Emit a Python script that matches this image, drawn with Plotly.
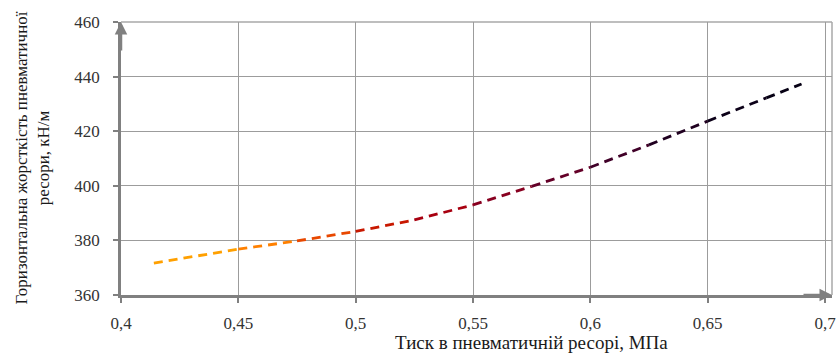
import plotly.graph_objects as go

# Data
pressure = [0.414, 0.45, 0.475, 0.5, 0.525, 0.55, 0.575, 0.6, 0.625, 0.65, 0.675, 0.69]
stiffness = [371.7, 376.8, 379.8, 383.3, 387.5, 393.0, 399.8, 406.8, 415.0, 423.7, 432.2, 437.3]
segment_colors = ["#FFA000", "#FF8000", "#E84800", "#C81800", "#A80010", "#880020",
                  "#640028", "#400028", "#200020", "#0c0018", "#060014"]

x_ticks = [0.4, 0.45, 0.5, 0.55, 0.6, 0.65, 0.7]
x_ticklabels = ["0,4", "0,45", "0,5", "0,55", "0,6", "0,65", "0,7"]
y_ticks = [360, 380, 400, 420, 440, 460]

x_title = "Тиск в пневматичній ресорі, МПа"
y_title = "Горизонтальна жорсткість пневматичної<br>ресори, кН/м"

FONT = "Liberation Serif"
AXIS_COLOR = "#808080"
GRID_COLOR = "#9c9c9c"

fig = go.Figure()
for i, c in enumerate(segment_colors):
    fig.add_trace(go.Scatter(
        x=pressure[i:i + 2], y=stiffness[i:i + 2], mode="lines",
        line=dict(color=c, width=2.8, dash="9px,6px"),
        showlegend=False, hoverinfo="skip"))

fig.update_layout(
    width=837, height=354,
    margin=dict(l=121, r=5, t=22, b=59),
    paper_bgcolor="white", plot_bgcolor="white",
    font=dict(family=FONT, size=17, color="#333333"),
    xaxis=dict(range=[0.4, 0.70298], tickvals=x_ticks, ticktext=x_ticklabels,
               showgrid=True, gridcolor=GRID_COLOR, gridwidth=1,
               showline=True, linecolor=AXIS_COLOR, linewidth=2.5,
               ticks="outside", ticklen=5, tickwidth=2, tickcolor=AXIS_COLOR,
               ticklabelstandoff=6, zeroline=False, automargin=False,
               tickfont=dict(family=FONT, size=17, color="#333333")),
    yaxis=dict(range=[360, 460], tickvals=y_ticks,
               showgrid=True, gridcolor=GRID_COLOR, gridwidth=1,
               showline=True, linecolor=AXIS_COLOR, linewidth=2.5,
               ticks="outside", ticklen=5, tickwidth=2, tickcolor=AXIS_COLOR,
               ticklabelstandoff=10, zeroline=False, automargin=False,
               tickfont=dict(family=FONT, size=17, color="#333333")),
    shapes=[
        dict(type="line", xref="paper", yref="paper", x0=0, x1=1, y0=1, y1=1,
             line=dict(color="#a8a8a8", width=1.5), layer="below"),
        dict(type="line", xref="paper", yref="paper", x0=1, x1=1, y0=0, y1=1,
             line=dict(color="#a8a8a8", width=1.5), layer="below"),
    ],
    annotations=[
        dict(text=y_title, xref="paper", yref="paper", x=0, y=0.5, xshift=-89,
             xanchor="center", yanchor="middle", textangle=-90, showarrow=False,
             font=dict(family=FONT, size=17, color="#1a1a1a")),
        dict(text=x_title, xref="paper", yref="paper", x=0.578, y=0, yshift=-47,
             xanchor="center", yanchor="middle", showarrow=False,
             font=dict(family=FONT, size=19, color="#1a1a1a")),
        dict(text="", xref="paper", yref="paper", x=0, y=1, ax=0, ay=30,
             axref="pixel", ayref="pixel", showarrow=True, arrowhead=2,
             arrowsize=1, arrowwidth=2.5, arrowcolor=AXIS_COLOR),
        dict(text="", xref="paper", yref="paper", x=1, y=0, ax=-30, ay=0,
             axref="pixel", ayref="pixel", showarrow=True, arrowhead=2,
             arrowsize=1, arrowwidth=2.5, arrowcolor=AXIS_COLOR),
    ],
)

fig.write_html("out.html", config={"displayModeBar": False},
               post_script="document.body.style.margin='0';")
